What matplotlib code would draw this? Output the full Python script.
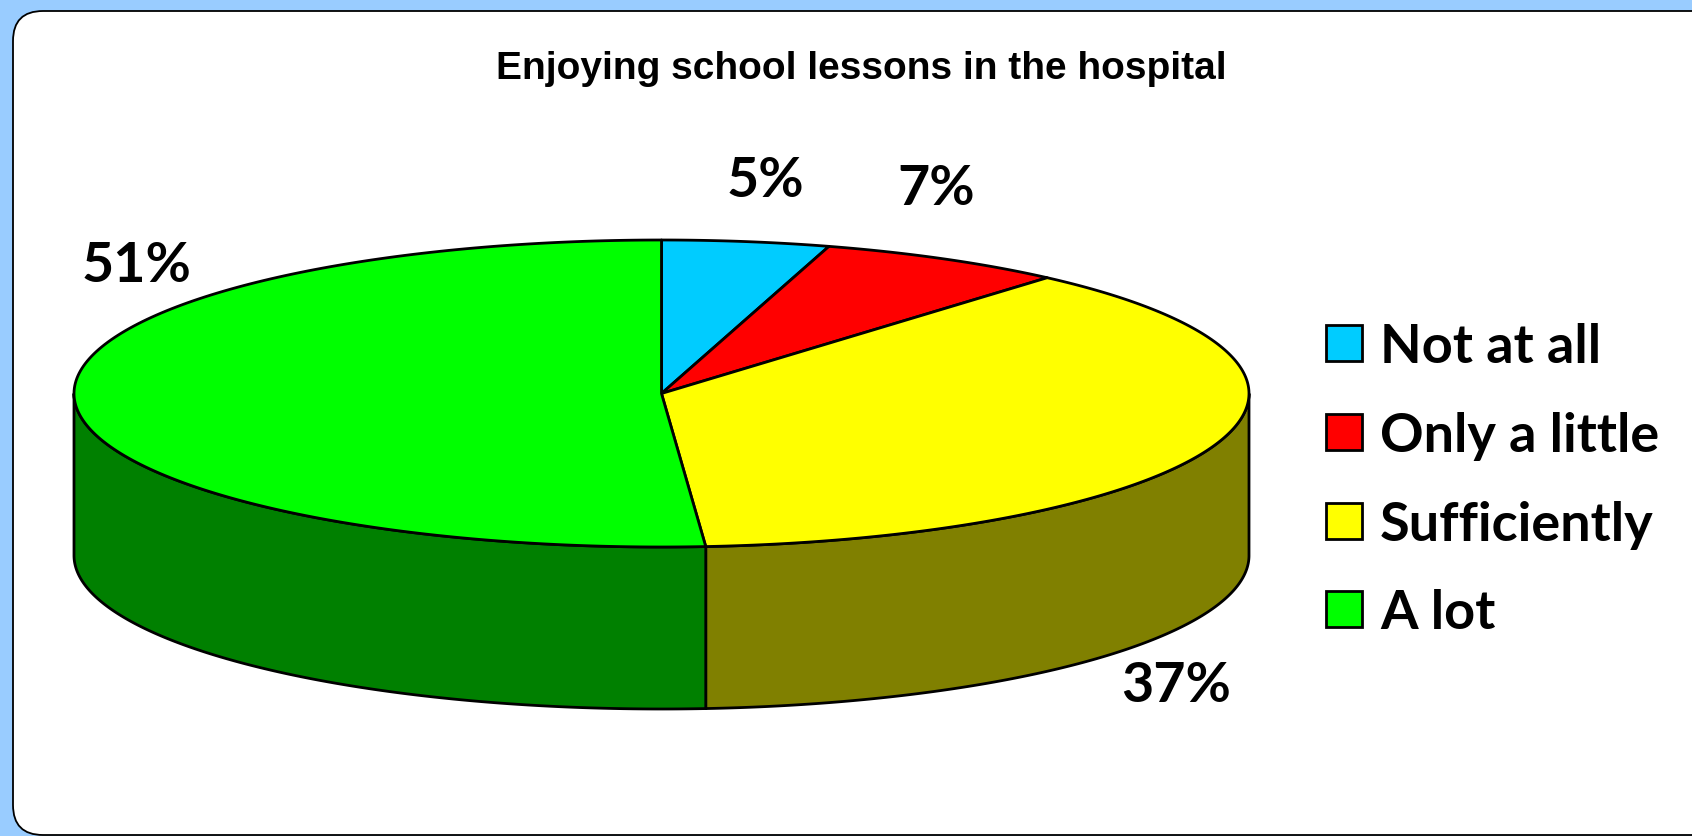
import numpy as np
import matplotlib
matplotlib.use("Agg")
import matplotlib.pyplot as plt
from matplotlib.patches import Polygon, FancyBboxPatch, Rectangle

# data (labels are the rounded values)
categories = ["Not at all", "Only a little", "Sufficiently", "A lot"]
values = [4.6, 6.8, 37.4, 51.2]
top_colors = ["#00CCFF", "#FF0000", "#FFFF00", "#00FF00"]
side_colors = ["#006680", "#800000", "#808000", "#008000"]
title = "Enjoying school lessons in the hospital"

# where excel put the data labels (centre x, baseline y)
label_pos = [(765, 197), (936, 205), (1176, 702), (136, 282)]

W, H = 1692, 837
cx, cy, a, b, depth = 661.5, 394.5, 587.5, 153.5, 162

label_font = ["Lato", "DejaVu Sans"]


def ell(theta, dy=0.0):
    t = np.radians(theta)
    return cx + a * np.sin(t), cy - b * np.cos(t) + dy


def arc(t1, t2, dy=0.0, n=200):
    ts = np.linspace(t1, t2, n)
    x, y = ell(ts, dy)
    return np.column_stack([x, y])


fig = plt.figure(figsize=(W / 100, H / 100), dpi=100)
fig.patch.set_facecolor("#99CCFF")
ax = fig.add_axes([0, 0, 1, 1])
ax.set_xlim(0, W)
ax.set_ylim(H, 0)
ax.axis("off")

panel = FancyBboxPatch((13, 12), 1720, 824, boxstyle="round,pad=0,rounding_size=30",
                       facecolor="white", edgecolor="black", lw=1.3, zorder=0)
ax.add_patch(panel)

total = sum(values)
angles = np.cumsum([0] + values) / total * 360.0

# sides (only the front half shows)
for i in range(len(values)):
    lo = max(angles[i], 90)
    hi = min(angles[i + 1], 270)
    if lo >= hi:
        continue
    pts = np.vstack([arc(lo, hi), arc(hi, lo, depth)])
    ax.add_patch(Polygon(pts, closed=True, facecolor=side_colors[i],
                         edgecolor="black", lw=2, zorder=2))

# tops
for i in range(len(values)):
    pts = np.vstack([[cx, cy], arc(angles[i], angles[i + 1])])
    ax.add_patch(Polygon(pts, closed=True, facecolor=top_colors[i],
                         edgecolor="black", lw=2, joinstyle="round", zorder=3))

for v, (x, y) in zip(values, label_pos):
    ax.text(x, y, f"{round(v / total * 100)}%", ha="center", va="baseline",
            fontsize=40, fontweight="bold", family=label_font, zorder=5)

ax.text(861, 79, title, ha="center", va="baseline", fontsize=28,
        fontweight="bold", family=["Liberation Sans", "DejaVu Sans"])

# legend
for i, cat in enumerate(categories):
    yc = 344 + i * 88.8
    ax.add_patch(Rectangle((1326, yc - 18), 36, 36, facecolor=top_colors[i],
                           edgecolor="black", lw=2, zorder=4))
    ax.text(1380, yc + 19, cat, ha="left", va="baseline", fontsize=39,
            fontweight="bold", family=label_font)

fig.savefig("out.png", dpi=100, facecolor=fig.get_facecolor())
